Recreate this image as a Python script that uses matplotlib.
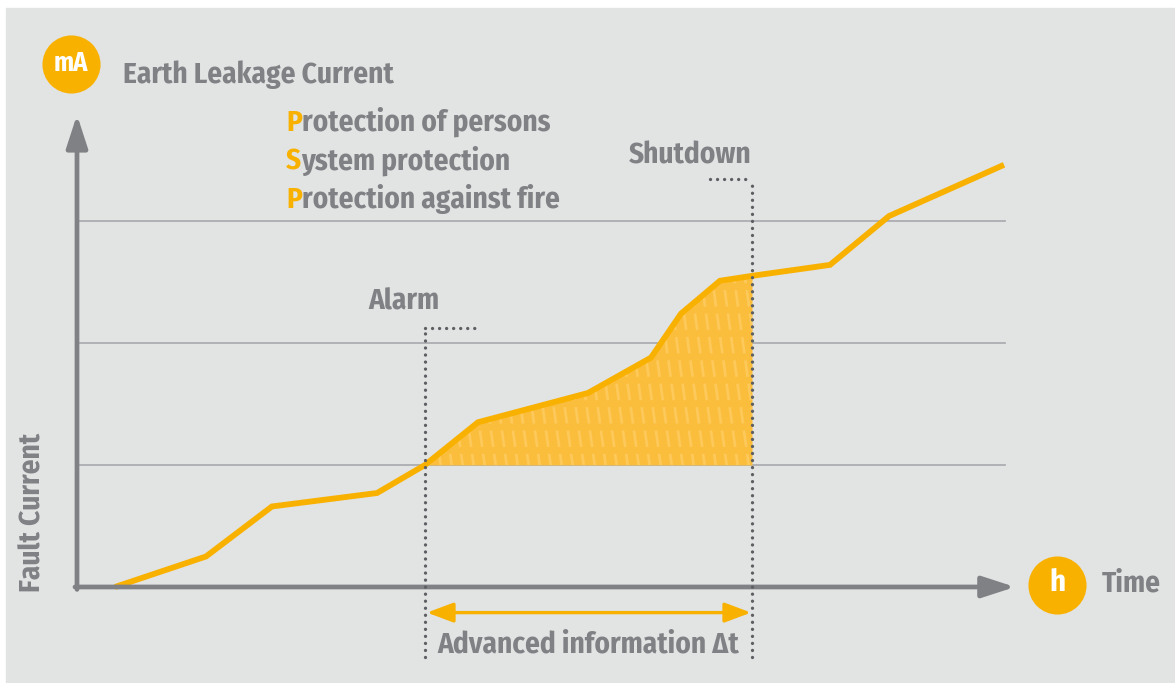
import matplotlib
matplotlib.use('Agg')
import matplotlib.pyplot as plt
from matplotlib.patches import Rectangle
import numpy as np

# dati (tempo in unita' arbitrarie, corrente in soglie)
time = [0.38, 1.29, 1.95, 3.00, 3.48, 4.01, 5.11, 5.74, 6.04, 6.43, 6.75, 7.53, 8.12, 9.27]
current = [0.0, 0.25, 0.66, 0.77, 1.0, 1.35, 1.59, 1.88, 2.24, 2.51, 2.55, 2.64, 3.04, 3.46]
levels = [1, 2, 3]
alarm_t = 3.48
shutdown_t = 6.75
alarm_level = 1.0
legend_lines = ['Protection of persons', 'System protection', 'Protection against fire']

ORANGE = '#f9b100'
FILL = '#fbbd3c'
STRIPE = '#fdc95a'
GRAY = '#7f8184'
GRID = '#a7a9ac'
DOTS = '#5d5f62'
BG = '#e2e3e3'
FS = 21

W, H = 1175, 683
plt.rcParams['font.family'] = ['Fira Sans Condensed', 'DejaVu Sans']
plt.rcParams['font.weight'] = 'bold'

fig = plt.figure(figsize=(W / 100, H / 100), dpi=100, facecolor='white')
ax = fig.add_axes([0, 0, 1, 1])
ax.set_xlim(-0.77, 10.98)
ax.set_ylim(-0.787, 4.811)
ax.axis('off')


def P(x, y):
    # posizione in pixel -> coordinate axes
    return (x / W, 1 - y / H)


ax.add_patch(Rectangle((6 / W, 0), 1, 1 - 8 / H, transform=ax.transAxes,
                       color=BG, zorder=0))

# griglia
for lv in levels:
    ax.plot([0, 9.28], [lv, lv], color=GRID, lw=1.2, zorder=1)

# area tra allarme e spegnimento
t = np.array(time)
c = np.array(current)
mask = (t >= alarm_t) & (t <= shutdown_t)
poly = ax.fill_between(t[mask], alarm_level, c[mask], color=FILL, lw=0, zorder=2)
clip = poly.get_paths()[0]
for k in np.arange(2.5, 8.0, 0.11):
    ln, = ax.plot([k, k + 0.4], [3.2, 0.8], color=STRIPE, lw=2.0,
                  dashes=(6, 2.5), zorder=3)
    ln.set_clip_path(clip, ax.transData)

ax.plot(time, current, color=ORANGE, lw=4.2, solid_joinstyle='miter',
        solid_capstyle='butt', zorder=5)

# assi
ax.annotate('', xy=(0, 3.87), xytext=(0, -0.02),
            arrowprops=dict(arrowstyle='-|>,head_length=2.0,head_width=0.65',
                            lw=3.4, color=GRAY, shrinkA=0, shrinkB=0), zorder=6)
ax.annotate('', xy=(9.38, 0), xytext=(-0.02, 0),
            arrowprops=dict(arrowstyle='-|>,head_length=2.0,head_width=0.65',
                            lw=3.4, color=GRAY, shrinkA=0, shrinkB=0), zorder=6)

# linee tratteggiate
dot_kw = dict(color=DOTS, lw=2.4, dashes=(0.01, 2.1), dash_capstyle='round', zorder=7)
ax.plot([alarm_t, alarm_t], [-0.57, 2.12], **dot_kw)
ax.plot([alarm_t, alarm_t + 0.52], [2.12, 2.12], **dot_kw)
ax.plot([shutdown_t, shutdown_t], [-0.57, 3.34], **dot_kw)
ax.plot([shutdown_t - 0.42, shutdown_t], [3.34, 3.34], **dot_kw)

# freccia doppia
ax.annotate('', xy=(shutdown_t - 0.01, -0.21), xytext=(alarm_t + 0.02, -0.21),
            arrowprops=dict(arrowstyle='<|-|>,head_length=1.6,head_width=0.6',
                            lw=2.4, color=ORANGE, shrinkA=0, shrinkB=0), zorder=7)

# testi
ax.scatter(*P(71, 64), s=1750, color=ORANGE, transform=ax.transAxes, zorder=8, lw=0)
ax.text(*P(71, 63), 'mA', color='white', fontsize=19, ha='center', va='center',
        transform=ax.transAxes, zorder=9)
ax.scatter(*P(1057, 585), s=1750, color=ORANGE, transform=ax.transAxes, zorder=8, lw=0)
ax.text(*P(1057, 583), 'h', color='white', fontsize=22, ha='center', va='center',
        transform=ax.transAxes, zorder=9)

ax.text(*P(123, 75), 'Earth Leakage Current', color=GRAY, fontsize=FS,
        ha='left', va='center', transform=ax.transAxes)
ax.text(*P(1102, 584), 'Time', color=GRAY, fontsize=FS,
        ha='left', va='center', transform=ax.transAxes)
ax.text(*P(33, 512), 'Fault Current', color=GRAY, fontsize=FS, rotation=90,
        ha='center', va='center', transform=ax.transAxes)
ax.text(*P(404, 302), 'Alarm', color=GRAY, fontsize=FS,
        ha='center', va='center', transform=ax.transAxes)
ax.text(*P(690, 156), 'Shutdown', color=GRAY, fontsize=FS,
        ha='center', va='center', transform=ax.transAxes)
ax.text(*P(588, 645), 'Advanced information \u0394t', color=GRAY, fontsize=FS,
        ha='center', va='center', transform=ax.transAxes)

for i, s in enumerate(legend_lines):
    first = ax.text(*P(286, 123 + i * 38.5), s[0], color=ORANGE, fontsize=FS,
                    ha='left', va='center', transform=ax.transAxes, zorder=10)
    ax.annotate(s[1:], xy=(1, 0), xycoords=first, color=GRAY, fontsize=FS,
                ha='left', va='bottom', zorder=9)

plt.savefig('out.png', dpi=100, facecolor='white')
